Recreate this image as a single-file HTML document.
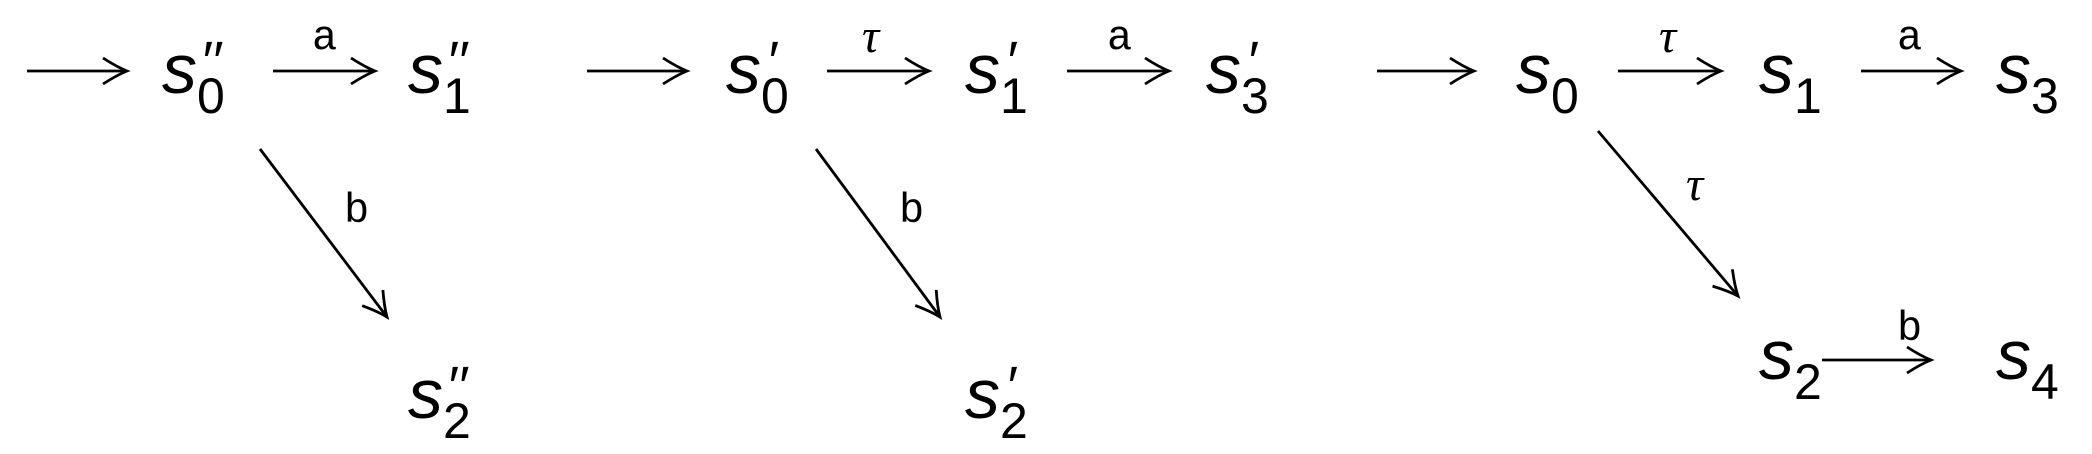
<!DOCTYPE html>
<html><head><meta charset="utf-8"><style>
html,body{margin:0;padding:0;background:#fff;}
svg{display:block;}
.s{font-family:"Liberation Sans",sans-serif;font-style:italic;font-size:70px;}
.sub{font-family:"Liberation Sans",sans-serif;font-size:50px;}
.pr{font-family:"Liberation Sans",sans-serif;font-style:italic;font-size:56px;}
.lab{font-family:"Liberation Mono",monospace;font-size:42px;}
.tau{font-family:"Liberation Serif",serif;font-style:italic;font-size:48px;}
line{stroke:#000;stroke-width:2.8;}
</style></head><body>
<svg width="2092" height="454" viewBox="0 0 2092 454">
<defs><marker id="ah" markerWidth="34" markerHeight="34" refX="26" refY="17" orient="auto" markerUnits="userSpaceOnUse">
<path d="M2 4 Q16 13 26 17 Q16 21 2 30" fill="none" stroke="#000" stroke-width="2.8"/></marker></defs>

<g>
<line x1="27" y1="71" x2="127" y2="71" marker-end="url(#ah)"/>
<text x="162" y="93"><tspan class="s">s</tspan><tspan class="sub" dy="20">0</tspan></text>
<text class="pr" x="200" y="80">′′</text>
<line x1="273" y1="71" x2="375" y2="71" marker-end="url(#ah)"/>
<text class="lab" x="312" y="49">a</text>
<text x="408" y="93"><tspan class="s">s</tspan><tspan class="sub" dy="20">1</tspan></text>
<text class="pr" x="446" y="80">′′</text>
<line x1="260" y1="149" x2="387" y2="317" marker-end="url(#ah)"/>
<text class="lab" x="344" y="222">b</text>
<text x="408" y="418"><tspan class="s">s</tspan><tspan class="sub" dy="20">2</tspan></text>
<text class="pr" x="446" y="405">′′</text>
</g>

<g>
<line x1="587" y1="71" x2="687" y2="71" marker-end="url(#ah)"/>
<text x="726" y="93"><tspan class="s">s</tspan><tspan class="sub" dy="20">0</tspan></text>
<text class="pr" x="766" y="80">′</text>
<line x1="827" y1="71" x2="929" y2="71" marker-end="url(#ah)"/>
<text class="tau" x="862" y="52">τ</text>
<text x="965" y="93"><tspan class="s">s</tspan><tspan class="sub" dy="20">1</tspan></text>
<text class="pr" x="1005" y="80">′</text>
<line x1="1067" y1="71" x2="1169" y2="71" marker-end="url(#ah)"/>
<text class="lab" x="1107" y="49">a</text>
<text x="1206" y="93"><tspan class="s">s</tspan><tspan class="sub" dy="20">3</tspan></text>
<text class="pr" x="1246" y="80">′</text>
<line x1="816" y1="149" x2="940" y2="317" marker-end="url(#ah)"/>
<text class="lab" x="899" y="222">b</text>
<text x="965" y="418"><tspan class="s">s</tspan><tspan class="sub" dy="20">2</tspan></text>
<text class="pr" x="1005" y="405">′</text>
</g>

<g>
<line x1="1377" y1="71" x2="1474" y2="71" marker-end="url(#ah)"/>
<text x="1516" y="93"><tspan class="s">s</tspan><tspan class="sub" dy="20">0</tspan></text>
<line x1="1618" y1="71" x2="1721" y2="71" marker-end="url(#ah)"/>
<text class="tau" x="1659" y="52">τ</text>
<text x="1759" y="93"><tspan class="s">s</tspan><tspan class="sub" dy="20">1</tspan></text>
<line x1="1861" y1="71" x2="1961" y2="71" marker-end="url(#ah)"/>
<text class="lab" x="1897" y="49">a</text>
<text x="1996" y="93"><tspan class="s">s</tspan><tspan class="sub" dy="20">3</tspan></text>
<line x1="1598" y1="131" x2="1738" y2="296" marker-end="url(#ah)"/>
<text class="tau" x="1686" y="200">τ</text>
<text x="1759" y="379"><tspan class="s">s</tspan><tspan class="sub" dy="20">2</tspan></text>
<line x1="1822" y1="360" x2="1931" y2="360" marker-end="url(#ah)"/>
<text class="lab" x="1897" y="340">b</text>
<text x="1996" y="379"><tspan class="s">s</tspan><tspan class="sub" dy="20">4</tspan></text>
</g>
</svg>
</body></html>
